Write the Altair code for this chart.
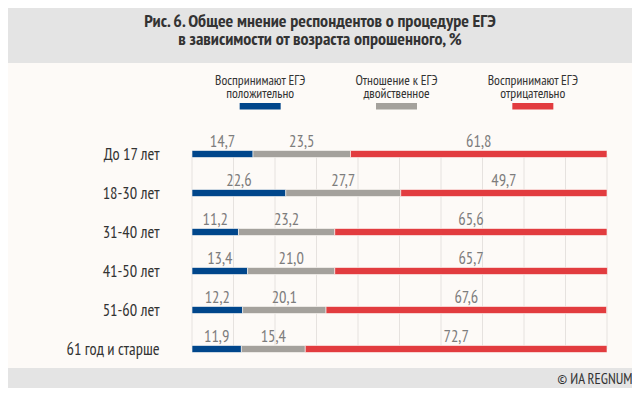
import altair as alt
import pandas as pd

title_lines = ["Рис. 6. Общее мнение респондентов о процедуре ЕГЭ",
               "в зависимости от возраста опрошенного, %"]
ages = ["До 17 лет", "18-30 лет", "31-40 лет", "41-50 лет", "51-60 лет", "61 год и старше"]
positive = [14.7, 22.6, 11.2, 13.4, 12.2, 11.9]
ambivalent = [23.5, 27.7, 23.2, 21.0, 20.1, 15.4]
negative = [61.8, 49.7, 65.6, 65.7, 67.6, 72.7]
series = ["Воспринимают ЕГЭ положительно",
          "Отношение к ЕГЭ двойственное",
          "Воспринимают ЕГЭ отрицательно"]
legend_text = ["Воспринимают ЕГЭ\nположительно",
               "Отношение к ЕГЭ\nдвойственное",
               "Воспринимают ЕГЭ\nотрицательно"]
colors = ["#00468b", "#a4a19c", "#e23c3f"]
grid_ticks = [0, 10, 20, 30, 40, 50, 60, 70, 80, 90, 100]
source_note = "© ИА REGNUM"

FONT = "PT Sans Narrow, Liberation Sans Narrow, Roboto Condensed, Roboto"
CREAM = "#fdfaf7"
BAND = "#e4e4e4"

# long table
rows = []
for i, age in enumerate(ages):
    start = 0.0
    for j, vals in enumerate([positive, ambivalent, negative]):
        v = vals[i]
        rows.append({"age": age, "series": series[j], "order": j, "value": v,
                     "start": start, "end": start + v, "mid": start + v / 2,
                     "label": f"{v:.1f}".replace(".", ",")})
        start += v
df = pd.DataFrame(rows)
grid_df = pd.DataFrame({"tick": grid_ticks})
legend_df = pd.DataFrame({"series": series, "text": legend_text})

x_scale = alt.Scale(domain=[0, 100], range=[184, 599], nice=False, zero=True)
y_scale = alt.Scale(type="point", range=[34, 229], padding=0)
color_scale = alt.Scale(domain=series, range=colors)

# ---- legend panel
leg_x = alt.X("series:N", sort=series, axis=None,
              scale=alt.Scale(type="point", range=[184, 593], padding=0.5))
legend_text_layer = alt.Chart(legend_df).mark_text(
    font=FONT, fontSize=13.5, color="#333333", align="center",
    baseline="middle", lineBreak="\n", lineHeight=12.5
).encode(x=leg_x, y=alt.value(18), text="text:N")
legend_swatch = alt.Chart(legend_df).mark_bar(size=41, opacity=1).encode(
    x=leg_x, y=alt.value(40), y2=alt.value(46.5),
    color=alt.Color("series:N", scale=color_scale, legend=None))
legend_panel = alt.layer(legend_text_layer, legend_swatch).properties(width=624, height=57)

# ---- main panel
grid = alt.Chart(grid_df).mark_rule(color="#e6e2df", strokeWidth=1).encode(
    x=alt.X("tick:Q", scale=x_scale),
    y=alt.datum(ages[0]),
    y2=alt.datum(ages[-1]),
)
bars = alt.Chart(df).mark_bar(size=7, stroke=CREAM, strokeWidth=0.6).encode(
    x=alt.X("start:Q", scale=x_scale,
            axis=alt.Axis(labels=False, ticks=False, domain=False, grid=False,
                          title=source_note, titleFont=FONT, titleFontSize=14.5,
                          titleFontWeight="normal", titleColor="#333333",
                          titleAnchor="end", titleAlign="right", titleX=624,
                          titleY=11, titleBaseline="middle")),
    x2="end:Q",
    y=alt.Y("age:N", sort=ages, scale=y_scale,
            axis=alt.Axis(title=None, ticks=False, tickSize=0, domain=False, grid=False,
                          offset=-151, labelPadding=0, labelFont=FONT,
                          labelFontSize=16.5, labelColor="#333333", labelAlign="right")),
    color=alt.Color("series:N", scale=color_scale, legend=None),
    order="order:Q",
)
labels = alt.Chart(df).mark_text(
    font=FONT, fontSize=16.5, color="#7d7d7d", baseline="alphabetic", dy=-7
).encode(
    x=alt.X("mid:Q", scale=x_scale),
    y=alt.Y("age:N", sort=ages, scale=y_scale),
    text="label:N",
)
main_panel = alt.layer(grid, bars, labels).properties(width=624, height=248)

chart = alt.vconcat(legend_panel, main_panel, spacing=0).properties(
    title=alt.TitleParams(text=title_lines, anchor="middle", font=FONT, fontSize=18,
                          fontWeight="bold", color="#333333", lineHeight=18, offset=14),
    background=BAND,
    padding={"left": 0, "right": 0, "top": 5, "bottom": 2},
).configure_view(fill=CREAM, stroke=None)

chart.save("out.html", embed_options={"renderer": "svg", "actions": False})
